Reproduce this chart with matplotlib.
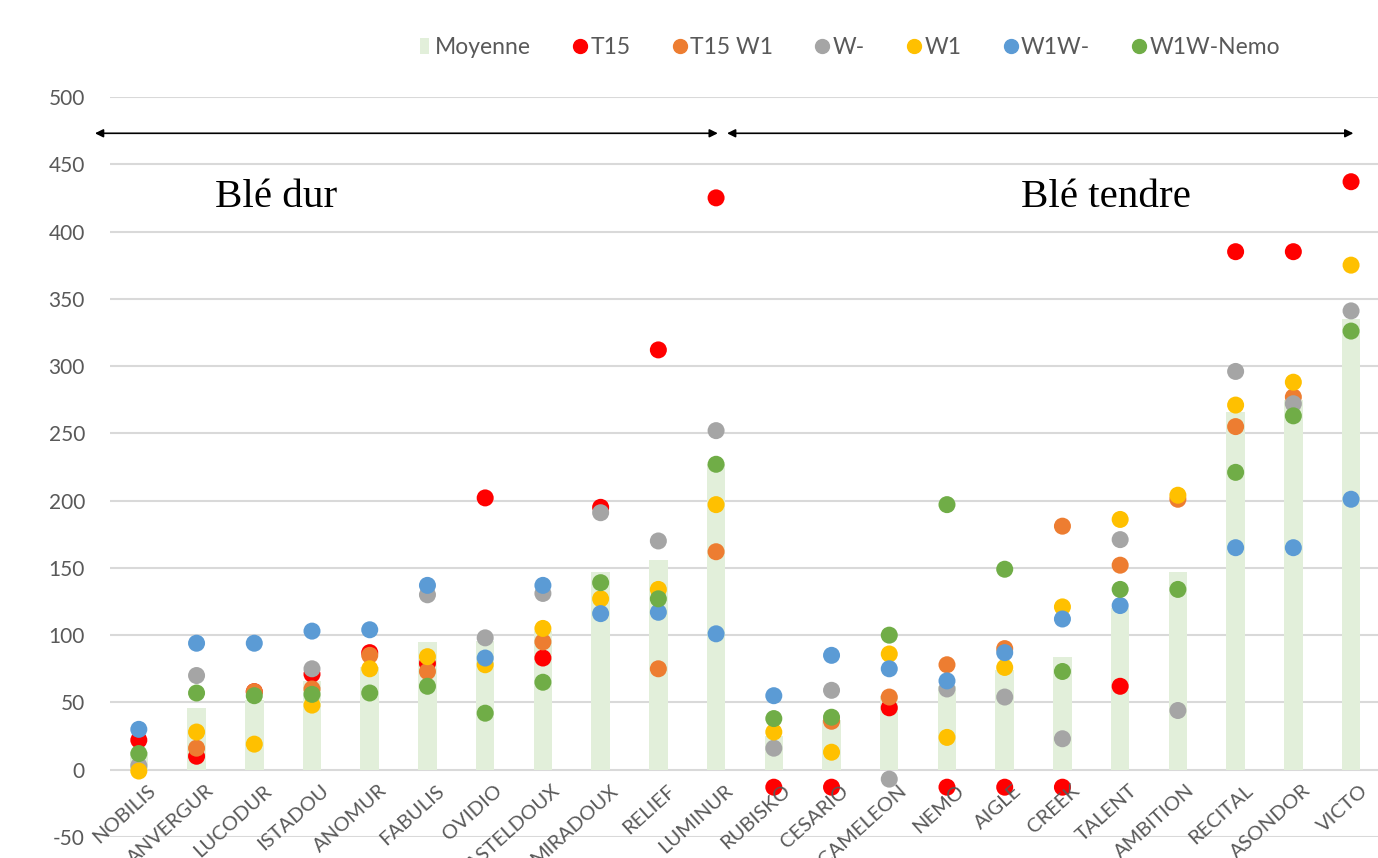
import numpy as np
import matplotlib.pyplot as plt
from matplotlib.lines import Line2D
from matplotlib.patches import Patch

# variétés (blé dur puis blé tendre)
varietes = ['NOBILIS', 'ANVERGUR', 'LUCODUR', 'ISTADOU', 'ANOMUR', 'FABULIS',
            'OVIDIO', 'CASTELDOUX', 'MIRADOUX', 'RELIEF', 'LUMINUR',
            'RUBISKO', 'CESARIO', 'CAMELEON', 'NEMO', 'AIGLE', 'CREEK',
            'TALENT', 'AMBITION', 'RECITAL', 'ASONDOR', 'VICTO']

nan = np.nan
moyenne = [13, 46, 52, 66, 76, 95, 96, 103, 147, 156, 227,
           25, 37, 55, 62, 74, 84, 120, 147, 266, 275, 335]
t15 = [22, 10, 58, 71, 87, 79, 202, 83, 195, 312, 425,
       -13, -13, 46, -13, -13, -13, 62, nan, 385, 385, 437]
t15_w1 = [nan, 16, 58, 60, 85, 73, nan, 95, nan, 75, 162,
          nan, 36, 54, 78, 90, 181, 152, 201, 255, 277, nan]
w_moins = [3, 70, nan, 75, nan, 130, 98, 131, 191, 170, 252,
           16, 59, -7, 60, 54, 23, 171, 44, 296, 272, 341]
w1 = [-1, 28, 19, 48, 75, 84, 78, 105, 127, 134, 197,
      28, 13, 86, 24, 76, 121, 186, 204, 271, 288, 375]
w1w_moins = [30, 94, 94, 103, 104, 137, 83, 137, 116, 117, 101,
             55, 85, 75, 66, 87, 112, 122, nan, 165, 165, 201]
w1w_nemo = [12, 57, 55, 56, 57, 62, 42, 65, 139, 127, 227,
            38, 39, 100, 197, 149, 73, 134, 134, 221, 263, 326]

series = [('T15', t15, '#FF0000'),
          ('T15 W1', t15_w1, '#ED7D31'),
          ('W-', w_moins, '#A5A5A5'),
          ('W1', w1, '#FFC000'),
          ('W1W-', w1w_moins, '#5B9BD5'),
          ('W1W-Nemo', w1w_nemo, '#70AD47')]

plt.rcParams['font.family'] = ['Lato', 'DejaVu Sans']
plt.rcParams['axes.unicode_minus'] = False

fig = plt.figure(figsize=(13.78, 8.58), dpi=100)
ax = fig.add_axes([0.0798, 0.0245, 0.9216, 0.8625])

x = np.arange(len(varietes))
ax.bar(x, moyenne, width=0.32, color='#E2EFDA', zorder=1)
for nom, vals, coul in series:
    ax.scatter(x, np.array(vals, dtype=float), s=150, color=coul,
               edgecolors='none', zorder=3)

ax.set_xlim(-0.5, len(varietes) - 0.5)
ax.set_ylim(-50, 500)
ax.set_yticks(np.arange(-50, 501, 50))
ax.yaxis.grid(True, color='#D9D9D9', linewidth=1.5, zorder=0)
ax.set_axisbelow(True)
for s in ax.spines.values():
    s.set_visible(False)
ax.tick_params(axis='y', length=0, pad=18, labelsize=15, labelcolor='#595959')
ax.set_xticks([])

# étiquettes des variétés (coupées en bas comme sur l'original)
for i, nom in enumerate(varietes):
    ax.text(i + 0.15, -9, nom, rotation=42, ha='right', va='top',
            rotation_mode='anchor', fontsize=14.5, color='#595959',
            clip_on=False)

# flèches et textes
fleche = dict(arrowstyle='<|-|>', color='black', lw=1.2,
              shrinkA=0, shrinkB=0, mutation_scale=12)
ax.annotate('', xy=(-0.76, 473), xytext=(10.03, 473), arrowprops=fleche,
            annotation_clip=False)
ax.annotate('', xy=(10.19, 473), xytext=(21.04, 473), arrowprops=fleche,
            annotation_clip=False)
ax.text(1.32, 425, 'Blé dur', fontsize=29.5, family='Liberation Serif',
        ha='left', va='center')
ax.text(15.29, 425, 'Blé tendre', fontsize=29.5, family='Liberation Serif',
        ha='left', va='center')

# légende
poignees = [Patch(facecolor='#E2EFDA', edgecolor='none', label='Moyenne')]
for nom, vals, coul in series:
    poignees.append(Line2D([], [], marker='o', linestyle='none', color=coul,
                           markersize=10, label=nom))
fig.legend(handles=poignees, loc='center', bbox_to_anchor=(0.617, 0.945),
           ncol=7, frameon=False, fontsize=16.5, handlelength=0.4,
           handletextpad=0.25, columnspacing=1.95, labelcolor='#595959')

plt.savefig('out.png', dpi=100)
